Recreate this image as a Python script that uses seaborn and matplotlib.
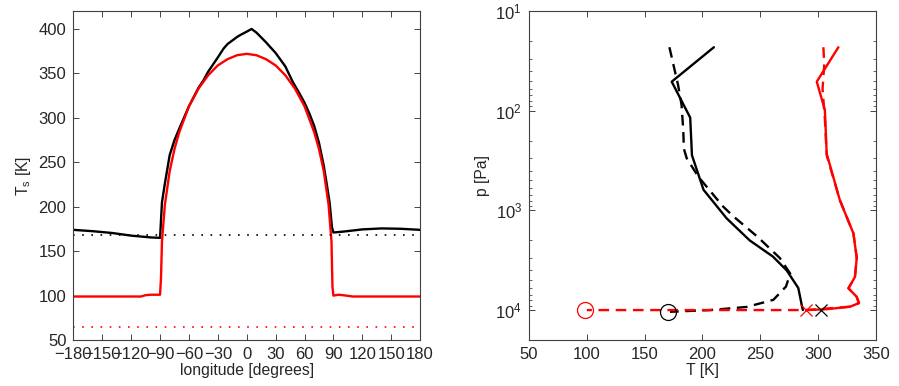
import numpy as np
import pandas as pd
import matplotlib
matplotlib.use('Agg')
import matplotlib.pyplot as plt
import seaborn as sns

# left panel: surface temperature vs longitude
lon_black = [-180, -160, -140, -120, -100, -90, -88, -85, -80, -75, -70, -66, -60, -50, -45, -40, -30, -24, -20, -10, -7,
             0, 5, 10, 20, 30, 40, 48, 55, 60, 65, 70, 75, 80, 83, 86, 88.5, 90, 100, 120, 140, 160, 180]
Ts_black = [174, 172.5, 170.5, 167.5, 165.5, 165, 205, 226, 258, 275, 288, 298, 313, 334, 342, 352, 368, 378, 383, 391, 393,
            397, 400, 396, 385, 373, 358, 340, 327, 317, 305, 291, 272, 246, 226, 205, 177, 171, 172, 174.5, 175.6, 175.2, 174]

lon_red = [-180, -110, -105, -100, -90, -89, -88, -85, -80, -75, -70, -60, -50, -40, -30, -20, -10,
           0, 10, 20, 30, 40, 50, 60, 70, 75, 80, 85, 88, 89, 90, 95, 100, 110, 180]
Ts_red = [99, 99, 100.5, 101, 101, 120, 161, 202, 240, 265, 284, 313, 333, 348, 359, 366, 370.5,
          372, 370.5, 366, 359, 348, 333, 313, 284, 265, 240, 202, 161, 110, 100, 101, 100.5, 99, 99]

night_black = 168
night_red = 65

# right panel: temperature profiles
p_black_solid = [23, 51, 117, 279, 620, 1200, 2000, 2900, 4000, 6000, 8900, 10000]
T_black_solid = [210, 173.5, 189.5, 191, 201, 221, 241, 261, 273, 283, 286, 287]

p_black_dash = [23, 55, 87, 156, 240, 300, 458, 915, 1150, 1850, 3000, 4300, 5800, 7900, 9300, 10000, 10400]
T_black_dash = [171.5, 179, 182, 183.5, 184, 186.5, 196.5, 218, 227, 248, 267, 276, 272.4, 261.4, 238.4, 206.6, 172]

p_red_solid = [23, 51, 98, 270, 790, 1700, 3000, 4660, 6040, 7350, 8500, 9250, 9800, 10000]
T_red_solid = [317.7, 299, 306, 307.6, 319, 330.7, 333.6, 332, 326.4, 333.5, 335.5, 327.8, 307.6, 290]

p_red_dash = [23, 34, 60, 120, 280, 790, 1700, 3000, 4660, 6040, 7350, 8500, 9250, 10000, 10000]
T_red_dash = [304.7, 305.5, 304, 306, 307.6, 319, 330.7, 333.6, 332, 326.4, 333.5, 335.5, 327.8, 290, 100]

circle_T = [170, 98.5]
circle_p = [10400, 10000]
cross_T = [303, 290]
cross_p = [10000, 10000]
marker_colors = ['black', 'red']

sns.set_style('ticks')
plt.rcParams['font.family'] = ['Liberation Sans', 'DejaVu Sans']
plt.rcParams['font.size'] = 11.3
plt.rcParams['axes.linewidth'] = 0.8
plt.rcParams['axes.edgecolor'] = '#404040'
plt.rcParams['xtick.direction'] = 'in'
plt.rcParams['ytick.direction'] = 'in'
plt.rcParams['xtick.top'] = True
plt.rcParams['ytick.right'] = True

fig = plt.figure(figsize=(8.99, 3.86), dpi=100)
ax1 = fig.add_axes([0.0816, 0.119, 0.3857, 0.852])
ax2 = fig.add_axes([0.5884, 0.119, 0.3857, 0.852])

lw = 1.7
sns.lineplot(x=lon_black, y=Ts_black, ax=ax1, color='black', lw=lw, sort=False, estimator=None)
sns.lineplot(x=lon_red, y=Ts_red, ax=ax1, color='red', lw=lw, sort=False, estimator=None)
ax1.axhline(night_black, color='black', lw=1.2, ls=(0, (1, 4.5)))
ax1.axhline(night_red, color='red', lw=1.2, ls=(0, (1, 4.5)))
ax1.set_xlim(-180, 180)
ax1.set_ylim(50, 420)
ax1.set_xticks(np.arange(-180, 181, 30))
ax1.set_yticks(np.arange(50, 401, 50))
ax1.set_xlabel('longitude [degrees]', labelpad=1)
ax1.set_ylabel('T$_\\mathregular{s}$ [K]', labelpad=4)

dash = (0, (4.5, 2.8))
sns.lineplot(x=T_black_solid, y=p_black_solid, ax=ax2, color='black', lw=lw, sort=False, estimator=None)
sns.lineplot(x=T_black_dash, y=p_black_dash, ax=ax2, color='black', lw=lw, ls=dash, sort=False, estimator=None)
sns.lineplot(x=T_red_solid, y=p_red_solid, ax=ax2, color='red', lw=lw, sort=False, estimator=None)
sns.lineplot(x=T_red_dash, y=p_red_dash, ax=ax2, color='red', lw=lw, ls=dash, sort=False, estimator=None)
for t, p, c in zip(circle_T, circle_p, marker_colors):
    ax2.plot(t, p, 'o', ms=11.5, mfc='none', mec=c, mew=0.9, zorder=5)
for t, p, c in zip(cross_T, cross_p, marker_colors):
    ax2.plot(t, p, 'x', ms=9, mec=c, mew=0.9, zorder=5)
ax2.set_yscale('log')
ax2.set_xlim(50, 350)
ax2.set_ylim(2e4, 10)
ax2.set_xticks(np.arange(50, 351, 50))
ax2.set_yticks([10, 100, 1000, 10000])
ax2.set_xlabel('T [K]', labelpad=1)
ax2.set_ylabel('p [Pa]', labelpad=4)

for ax in (ax1, ax2):
    ax.tick_params(which='major', length=4, width=0.6, pad=5, labelsize=12)
    ax.tick_params(which='minor', length=2, width=0.5)

fig.savefig('out.png', dpi=100)
